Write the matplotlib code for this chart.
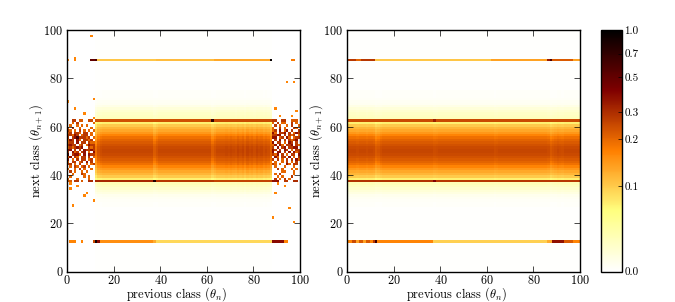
import numpy as np
import matplotlib
matplotlib.use('Agg')
import matplotlib.pyplot as plt
from matplotlib.colors import FuncNorm

plt.rcParams['font.family'] = ['cmr10', 'DejaVu Serif']
plt.rcParams['mathtext.fontset'] = 'cm'
plt.rcParams['axes.formatter.use_mathtext'] = True
plt.rcParams['axes.unicode_minus'] = False

row_profile = [
    .001, .001, .001, .001, .001, .001, .001, .001, .001, .001,
    .001, .001, .001, .001, .001, .001, .001, .001, .001, .001,
    .001, .001, .001, .001, .001, .001, .001, .002, .002, .003,
    .004, .006, .010, .014, .018, .023, .028, .000, .070, .100,
    .120, .135, .150, .170, .190, .205, .220, .235, .250, .255,
    .255, .250, .235, .220, .205, .190, .170, .150, .135, .120,
    .100, .070, .000, .026, .023, .020, .017, .013, .008, .005,
    .004, .003, .002, .002, .002, .001, .001, .001, .001, .001,
    .001, .001, .001, .001, .001, .001, .001, .000, .001, .001,
    .001, .001, .001, .001, .001, .001, .001, .001, .001, .001,
]

# relative weight of each previous class in the two panels
col_left = [
    0, 0, 0, 0, 0, 0, 0, 0, 0, 0, 0, 0, .75, .92, .97, 1, 1, 1, 1, 1,
    1, 1, 1, 1, 1, 1, 1, 1, 1, 1, 1, 1, 1, 1, 1, 1, 1, .87, .94, 1,
    1, 1, 1, 1, 1, 1, 1, 1, 1, 1, 1, 1, 1, 1, 1, 1, 1, 1, 1, 1,
    1, 1, .87, .94, 1, 1, 1, 1, 1.02, 1, 1.03, 1, .98, 1.04, 1, 1.04, .97, 1.05, 1, 1.03,
    .98, 1.04, 1, 1.02, .97, 1, .97, .85, 0, 0, 0, 0, 0, 0, 0, 0, 0, 0, 0, 0,
]
col_right = [
    1, 1, 1, 1, .98, 1, 1, 1, .98, 1, 1, .98, .88, .92, .97, 1, 1, 1, 1, 1,
    1, 1, 1, 1, 1, 1, 1, 1, 1, 1, 1, 1, 1, 1, 1, 1, 1, .97, .98, 1,
    1, 1, 1, 1, 1, 1, 1, 1, 1, 1, 1, 1, 1, 1, 1, 1, 1, 1, 1, 1,
    1, 1, 1, .97, .98, 1, 1, 1, 1, 1, 1, 1, 1, 1, 1, 1, 1, 1, 1, 1,
    1, 1, 1, 1, 1, 1, .98, .90, .94, .97, 1, .98, .97, 1, 1, 1, 1, 1, 1, 1,
]

# the four sharp lines, left panel: (row, [(first col, last col, value), ...])
lines_left = {
    87: [(0, 0, .17), (3, 3, .17), (10, 11, .50), (12, 12, .60), (13, 37, .105), (38, 62, .115),
         (63, 86, .135), (87, 87, .95), (96, 97, .18)],
    62: [(2, 3, .28), (5, 6, .22), (9, 10, .25), (12, 61, .24), (62, 62, .70), (63, 87, .25),
         (88, 89, .28), (92, 93, .28), (96, 98, .22)],
    37: [(0, 1, .22), (3, 4, .28), (6, 6, .22), (9, 10, .30), (12, 36, .31), (37, 37, .80), (38, 62, .28),
         (63, 87, .26), (88, 90, .38), (93, 94, .28), (97, 98, .30)],
    12: [(1, 3, .17), (6, 6, .17), (11, 11, .25), (12, 12, .90), (13, 13, .40), (14, 36, .16), (37, 37, .13),
         (38, 87, .09), (88, 92, .40), (93, 94, .17)],
}
lines_right = {
    87: [(0, 3, .28), (4, 5, .20), (6, 11, .28), (12, 61, .105), (62, 85, .14), (86, 86, .35), (87, 87, .60),
         (88, 96, .22), (97, 99, .14)],
    62: [(0, 36, .25), (37, 37, .34), (38, 99, .25)],
    37: [(0, 36, .29), (37, 37, .42), (38, 99, .28)],
    12: [(0, 1, .17), (2, 3, .25), (4, 4, .14), (5, 6, .22), (7, 7, .14), (8, 9, .22), (10, 10, .17),
         (11, 11, .28), (12, 12, .65), (13, 36, .17), (37, 85, .095), (86, 87, .13), (88, 92, .38),
         (93, 96, .22), (97, 99, .17)],
}

# the noisy outer columns of the left panel, top row is class 61, last row class 38
# . empty, 1 to 4 from orange to dark red
noise_levels = {'.': 0, '1': .20, '2': .28, '3': .38, '4': .60}
noise_block_left = [
    '..1.2......1',
    '.1..1.1.1...',
    '1.2..1....1.',
    '21.1.2.1.1.1',
    '12.221.22.1.',
    '22132.122.1.',
    '2.23422212.1',
    '132.31.2212.',
    '122.3.22.211',
    '2322.12.1322',
    '1212323..212',
    '33.2.2.32232',
    '2.312.23.1.3',
    '4.2331.3.322',
    '13.21.22.2.1',
    '3.1.2.22.12.',
    '1.22.12.3.2.',
    '22.1.2..1.12',
    '.1.21.12.1..',
    '1..1.2.1..1.',
    '.2.1..1.1...',
    '..1...21....',
    '.1.....1.1..',
    '1...1....1..',
]
noise_block_right = [
    '1.2.11..2.1.',
    '.2.1..1.2..1',
    '1..2.1...21.',
    '12.3.13.2..2',
    '31.223.2.132',
    '2233.2.212.1',
    '33.12.31.122',
    '.2.3.2.2123.',
    '3.22.1.32.2.',
    '13.31.223.21',
    '2.3.23.2233.',
    '32.2.32.1.22',
    '3.33.2.3.312',
    '213.2.1.22.3',
    '.31.22.3.1.2',
    '2.2.1.2.2.31',
    '.1..1.2.1.2.',
    '21.1..31.22.',
    '.1...1...1..',
    '..2.1...1.1.',
    '....11...1..',
    '.1.2.....1..',
    '..1.1...2...',
    '.2.1.2.1....',
]

# single orange cells outside the noisy block: (col, row)
stray_cells = [(10, 97), (3, 88), (0, 70), (3, 67), (7, 65), (11, 71), (11, 63), (1, 34), (2, 27), (7, 31),
               (8, 32), (11, 29), (1, 36), (4, 35), (89, 67), (98, 66), (94, 78), (97, 78), (89, 32), (95, 26),
               (88, 22), (97, 20), (91, 64), (96, 64), (90, 36), (93, 35)]

cbar_ticks = [0.0, 0.1, 0.2, 0.3, 0.5, 0.7, 1.0]
# colour bar position of values, measured from its tick marks
scale_values = [0.0, 0.01, 0.02, 0.05, 0.1, 0.2, 0.3, 0.5, 0.7, 1.0]
scale_fracs = [0.0, 0.06, 0.11, 0.228, 0.353, 0.548, 0.661, 0.805, 0.902, 1.0]


def build_matrix(cols, lines):
    matrix = np.outer(row_profile, cols)
    for row, segments in lines.items():
        for first, last, value in segments:
            matrix[row, first:last + 1] = value
    return matrix


def add_noise(matrix):
    for i, text in enumerate(noise_block_left):
        for j, ch in enumerate(text):
            matrix[61 - i, j] = noise_levels[ch]
    for i, text in enumerate(noise_block_right):
        for j, ch in enumerate(text):
            matrix[61 - i, 88 + j] = noise_levels[ch]
    for col, row in stray_cells:
        matrix[row, col] = .17


def to_frac(v):
    return np.interp(v, scale_values, scale_fracs)


def from_frac(f):
    return np.interp(f, scale_fracs, scale_values)


def main():
    norm = FuncNorm((to_frac, from_frac), vmin=0.0, vmax=1.0)

    left = build_matrix(col_left, lines_left)
    add_noise(left)
    right = build_matrix(col_right, lines_right)

    fig = plt.figure(figsize=(6.75, 3.02), dpi=100)
    ax1 = fig.add_axes([67.3 / 675, 30.5 / 302, 232.7 / 675, 241.5 / 302])
    ax2 = fig.add_axes([347.3 / 675, 30.5 / 302, 232.7 / 675, 241.5 / 302])
    cax = fig.add_axes([600.5 / 675, 30.5 / 302, 21 / 675, 241.5 / 302])

    for ax, data in ((ax1, left), (ax2, right)):
        # the sharp lines sit a little below the cell centres in the reference
        im = ax.imshow(data, origin='lower', extent=(0, 100, -0.35, 99.65), aspect='auto',
                       cmap='afmhot_r', norm=norm, interpolation='nearest')
        ax.set_xlim(0, 100)
        ax.set_ylim(0, 100)
        ax.set_xticks(range(0, 101, 20))
        ax.set_yticks(range(0, 101, 20))
        ax.tick_params(direction='in', top=True, right=True, length=4, width=0.5, labelsize=8.8)
        ax.tick_params(axis='x', pad=1.5)
        ax.tick_params(axis='y', pad=3)
        ax.set_xlabel(r'previous class ($\theta_n$)', fontsize=9, labelpad=-1)
        ax.xaxis.label.set_x(0.471)
        ax.set_ylabel(r'next class ($\theta_{n+1}$)', fontsize=9, labelpad=-1)
        for spine in ax.spines.values():
            spine.set_linewidth(1.0)

    cbar = fig.colorbar(im, cax=cax)
    cbar.set_ticks(cbar_ticks)
    cbar.set_ticklabels(['%.1f' % t for t in cbar_ticks])
    cbar.ax.minorticks_off()
    cbar.ax.tick_params(direction='in', length=3, width=0.5, labelsize=8, pad=2)
    cbar.outline.set_linewidth(1.0)

    fig.savefig('out.png', dpi=100)


if __name__ == '__main__':
    main()
